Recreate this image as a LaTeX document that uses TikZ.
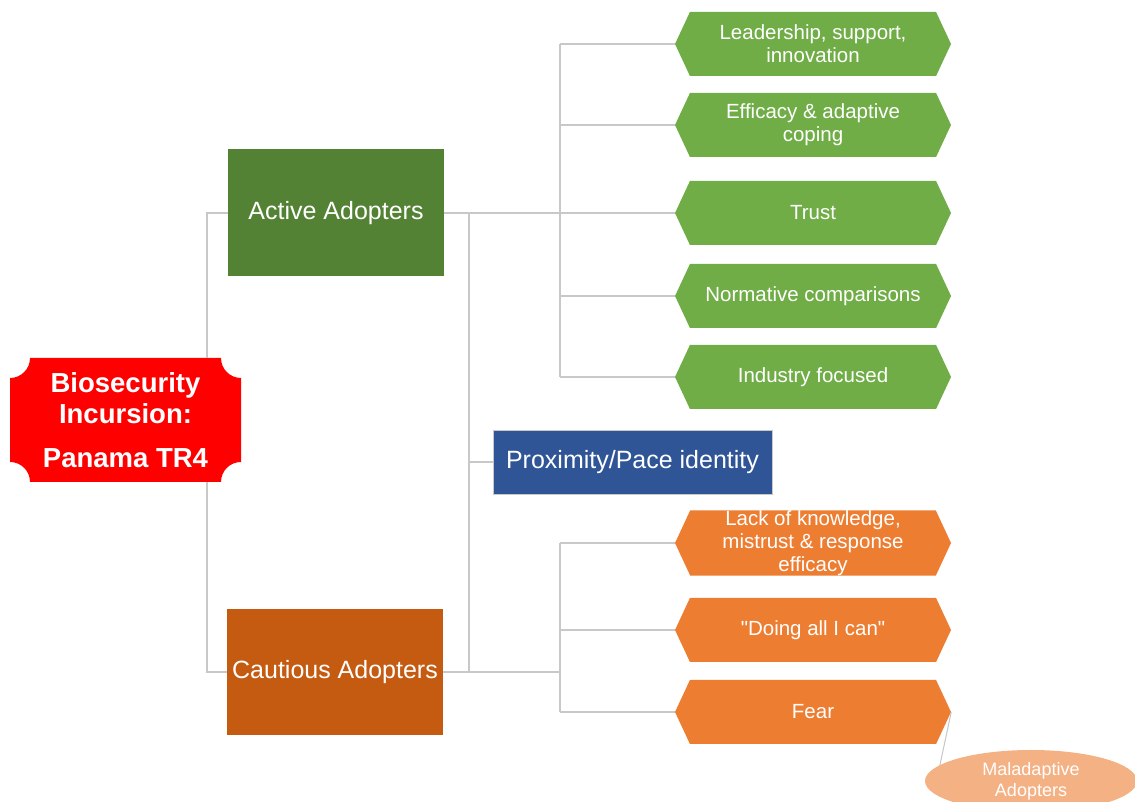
\documentclass[tikz,border=0pt]{standalone}
\usepackage{fontspec}
\setmainfont{Liberation Sans}
\usetikzlibrary{shapes.symbols,shapes.geometric,backgrounds}
\definecolor{cRed}{HTML}{FF0000}
\definecolor{cActive}{HTML}{548235}
\definecolor{cCaut}{HTML}{C55A11}
\definecolor{cBlue}{HTML}{2F5597}
\definecolor{cGreen}{HTML}{70AD47}
\definecolor{cOrange}{HTML}{ED7D31}
\definecolor{cPeach}{HTML}{F4B183}
\definecolor{cLine}{HTML}{C8C8C8}
\tikzset{
  conn/.style={draw=cLine, line width=1.8pt},
  bigbox/.style={rectangle, minimum width=216pt, minimum height=127pt, inner sep=0pt, text=white, font=\fontsize{25}{29}\selectfont},
  hexa/.style={signal, signal to=east and west, signal pointer angle=130, minimum width=276pt, minimum height=64pt, inner sep=0pt, text=white, align=center, font=\fontsize{20.5}{23}\selectfont},
  greenhex/.style={hexa, fill=cGreen},
  orangehex/.style={hexa, fill=cOrange},
}
\begin{document}
\begin{tikzpicture}[x=1pt,y=1pt]
\useasboundingbox (0,0) rectangle (1135,802);
% red concave-corner plaque
\def\rx{10}\def\rX{241}\def\ry{320}\def\rY{444}\def\rr{20}
\fill[cRed] (\rx+\rr,\rY) -- (\rX-\rr,\rY) arc[start angle=180,end angle=270,radius=\rr]
  -- (\rX,\ry+\rr) arc[start angle=90,end angle=180,radius=\rr]
  -- (\rx+\rr,\ry) arc[start angle=0,end angle=90,radius=\rr]
  -- (\rx,\rY-\rr) arc[start angle=270,end angle=360,radius=\rr] -- cycle;
\node[minimum width=231pt, minimum height=124pt, inner sep=0pt, text=white, align=center,
  font=\bfseries\fontsize{27.5}{31}\selectfont] (red) at (125.5,382) {Biosecurity\\Incursion:\\[13pt]Panama TR4};

\node[bigbox, fill=cActive] (active) at (336,589) {Active Adopters};
\node[bigbox, fill=cCaut, minimum height=126pt] (caut) at (335,130) {Cautious Adopters};
\node[rectangle, fill=cBlue, draw=cLine, line width=0.6pt, minimum width=279pt, minimum height=64pt, inner sep=0pt, text=white,
  font=\fontsize{25}{29}\selectfont] (blue) at (632.5,340) {Proximity/Pace identity};

\node[greenhex] (h1) at (813,758) {Leadership, support,\\innovation};
\node[greenhex] (h2) at (813,677) {Efficacy \& adaptive\\coping};
\node[greenhex] (h3) at (813,589) {Trust};
\node[greenhex] (h4) at (813,506) {Normative comparisons};
\node[greenhex] (h5) at (813,425) {Industry focused};
\node[orangehex] (h6) at (813,259) {Lack of knowledge,\\mistrust \& response\\efficacy};
\node[orangehex] (h7) at (813,172) {\textquotedbl Doing all I can\textquotedbl};
\node[orangehex] (h8) at (813,90) {Fear};

\node[ellipse, fill=cPeach, minimum width=212pt, minimum height=62pt, inner sep=0pt, text=white, align=center,
  font=\fontsize{18}{21}\selectfont] (mal) at (1031,21) {Maladaptive\\Adopters};

% connectors from the root
\draw[conn] (active.west) -- ++(-21pt,0) coordinate (tl) -- (tl |- red.north);
\draw[conn] (caut.west) -- ++(-20pt,0) coordinate (bl) -- (bl |- red.south);

% active branch
\coordinate (busA) at (560,589);
\coordinate (midbus) at (469,589);
\draw[conn] (active.east) -- (h3.west);
\draw[conn] (busA |- h1.west) -- (busA |- h5.west);
\foreach \h in {h1,h2,h4,h5} \draw[conn] (busA |- \h.west) -- (\h.west);

% middle bus to blue and cautious
\draw[conn] (midbus |- active.east) -- (midbus |- caut.east);
\draw[conn] (midbus |- blue.west) -- (blue.west);

% cautious branch
\coordinate (busC) at (560,130);
\draw[conn] (caut.east) -- (caut.east -| busC);
\draw[conn] (busC |- h6.west) -- (busC |- h8.west);
\foreach \h in {h6,h7,h8} \draw[conn] (busC |- \h.west) -- (\h.west);

% maladaptive link
\draw[draw=gray!45, line width=1pt] (h8.east) -- (mal.170);
\end{tikzpicture}
\end{document}
